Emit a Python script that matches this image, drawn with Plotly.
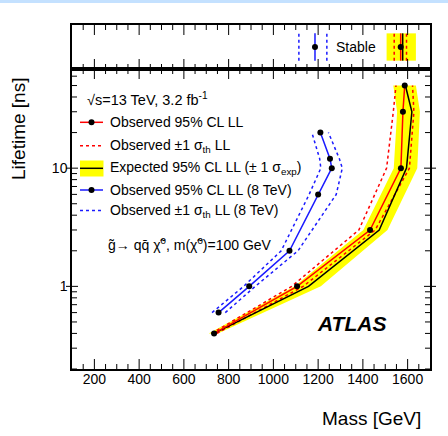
import plotly.graph_objects as go
import numpy as np

# ---------------- data ----------------
# 13 TeV observed (red) and expected (black + yellow band), lifetime in ns
life13 = [0.4, 1, 3, 10, 30, 50]
obs13 = [735, 1106, 1432, 1570, 1579, 1587]
obs13_lo = [724, 1082, 1382, 1506, 1536, 1548]
obs13_hi = [747, 1133, 1455, 1608, 1628, 1622]
exp13 = [735, 1157, 1473, 1595, 1619, 1590]
exp13_lo = [711, 1095, 1402, 1538, 1553, 1536]
exp13_hi = [752, 1212, 1510, 1643, 1655, 1637]

# 8 TeV observed (blue)
life8 = [0.6, 1, 2, 6, 10, 12, 20]
obs8 = [755, 892, 1072, 1200, 1261, 1253, 1210]
obs8_lo = [726, 867, 1035, 1160, 1212, 1207, 1172]
obs8_hi = [785, 919, 1110, 1281, 1308, 1295, 1246]

# stable limits (top panel)
stable_obs13 = 1569
stable_obs13_lo = 1540
stable_obs13_hi = 1595
stable_exp13 = 1578
stable_exp13_lo = 1506
stable_exp13_hi = 1637
stable_obs8 = 1186
stable_obs8_lo = 1114
stable_obs8_hi = 1239

xtick_vals = [200, 400, 600, 800, 1000, 1200, 1400, 1600]
xminor_vals = [v for v in range(150, 1700, 50) if v % 200 != 0]
ytick_vals = [1, 10]
ytick_text = ["1", "10"]
yminor_vals = [0.2, 0.3, 0.4, 0.5, 0.6, 0.7, 0.8, 0.9,
               2, 3, 4, 5, 6, 7, 8, 9, 20, 30, 40, 50, 60]

# ---------------- layout geometry ----------------
W, H = 448, 436
L, R, T, B = 72, 18, 25, 67
PW, PH = W - L - R, H - T - B
main_top = 69
split = (H - B - main_top) / PH
XR = [100, 1700]
YR = [float(np.log10(0.2)), float(np.log10(69))]

def px(x):
    return (x - L) / PW

def py(y):
    return (H - B - y) / PH

def ypaper(v):
    return split * (np.log10(v) - YR[0]) / (YR[1] - YR[0])

FONT = "Liberation Sans, Arial, Helvetica, sans-serif"
RED = "#ff0000"
BLUE = "#1a1aff"
YEL = "#ffff00"

fig = go.Figure()

# main panel
fig.add_trace(go.Scatter(x=exp13_lo + exp13_hi[::-1], y=life13 + life13[::-1],
                         fill="toself", fillcolor=YEL, line=dict(width=0),
                         mode="lines", hoverinfo="skip", showlegend=False))
for arr in (obs13_lo, obs13_hi):
    fig.add_trace(go.Scatter(x=arr, y=life13, mode="lines",
                             line=dict(color=RED, width=1.5, dash="dot"), showlegend=False))
fig.add_trace(go.Scatter(x=exp13, y=life13, mode="lines",
                         line=dict(color="black", width=1.5), showlegend=False))
fig.add_trace(go.Scatter(x=obs13, y=life13, mode="lines+markers",
                         line=dict(color=RED, width=1.5),
                         marker=dict(color="black", size=6), showlegend=False))
for arr in (obs8_lo, obs8_hi):
    fig.add_trace(go.Scatter(x=arr, y=life8, mode="lines",
                             line=dict(color=BLUE, width=1.5, dash="dot"), showlegend=False))
fig.add_trace(go.Scatter(x=obs8, y=life8, mode="lines+markers",
                         line=dict(color=BLUE, width=1.5),
                         marker=dict(color="black", size=6), showlegend=False))

# top panel (stable)
ylo, yhi, ymid = 0.19, 0.81, 0.5
fig.add_trace(go.Scatter(x=[stable_exp13_lo, stable_exp13_hi, stable_exp13_hi, stable_exp13_lo],
                         y=[ylo, ylo, yhi, yhi], fill="toself", fillcolor=YEL,
                         line=dict(width=0), mode="lines", xaxis="x2", yaxis="y2", showlegend=False))
for xv in (stable_obs13_lo, stable_obs13_hi):
    fig.add_trace(go.Scatter(x=[xv, xv], y=[ylo, yhi], mode="lines", xaxis="x2", yaxis="y2",
                             line=dict(color=RED, width=1.5, dash="dot"), showlegend=False))
fig.add_trace(go.Scatter(x=[stable_exp13, stable_exp13], y=[ylo, yhi], mode="lines",
                         xaxis="x2", yaxis="y2", line=dict(color="black", width=1.5), showlegend=False))
fig.add_trace(go.Scatter(x=[stable_obs13, stable_obs13], y=[ylo, yhi], mode="lines",
                         xaxis="x2", yaxis="y2", line=dict(color=RED, width=1.5), showlegend=False))
fig.add_trace(go.Scatter(x=[stable_obs13], y=[ymid], mode="markers", xaxis="x2", yaxis="y2",
                         marker=dict(color="black", size=6), showlegend=False))
for xv in (stable_obs8_lo, stable_obs8_hi):
    fig.add_trace(go.Scatter(x=[xv, xv], y=[ylo, yhi], mode="lines", xaxis="x2", yaxis="y2",
                             line=dict(color=BLUE, width=1.5, dash="dot"), showlegend=False))
fig.add_trace(go.Scatter(x=[stable_obs8, stable_obs8], y=[ylo, yhi], mode="lines",
                         xaxis="x2", yaxis="y2", line=dict(color=BLUE, width=1.5), showlegend=False))
fig.add_trace(go.Scatter(x=[stable_obs8], y=[ymid], mode="markers", xaxis="x2", yaxis="y2",
                         marker=dict(color="black", size=6), showlegend=False))

base = dict(showline=True, linecolor="black", linewidth=1.5, showgrid=False,
            zeroline=False, ticks="", mirror=True)

fig.update_layout(
    width=W, height=H, margin=dict(l=L, r=R, t=T, b=B),
    paper_bgcolor="white", plot_bgcolor="white",
    font=dict(family=FONT, color="black", size=14),
    xaxis=dict(range=XR, domain=[0, 1], anchor="y", tickmode="array",
               tickvals=xtick_vals, tickfont=dict(size=14), ticklabelstandoff=-4, **base),
    xaxis2=dict(range=XR, domain=[0, 1], anchor="y2", showticklabels=False, **base),
    yaxis=dict(type="log", range=YR, domain=[0, split], anchor="x", tickmode="array",
               tickvals=ytick_vals, ticktext=ytick_text, tickfont=dict(size=14), **base),
    yaxis2=dict(range=[0, 1], domain=[split, 1], anchor="x2", showticklabels=False, **base),
)

ann = []
shapes = []

# ---- tick marks (axis decoration) ----
TK = dict(color="black", width=1)

def xtick(xv, yanchor, length):
    # length > 0 points up, < 0 points down
    return dict(type="line", xref="x", yref="paper", ysizemode="pixel", yanchor=yanchor,
                x0=xv, x1=xv, y0=0, y1=length, line=TK, layer="above")

def ytick(v, xanchor, a, b):
    yp = float(ypaper(v))
    return dict(type="line", xref="paper", yref="paper", xsizemode="pixel", xanchor=xanchor,
                x0=a, x1=b, y0=yp, y1=yp, line=TK, layer="above")

for xv in xtick_vals:
    shapes += [xtick(xv, 0, 10), xtick(xv, split, -10), xtick(xv, split, 10), xtick(xv, 1, -10)]
for xv in xminor_vals:
    shapes += [xtick(xv, 0, 5), xtick(xv, split, -5), xtick(xv, split, 5), xtick(xv, 1, -5)]
for v in ytick_vals:
    shapes += [ytick(v, 0, -6, 6), ytick(v, 1, -6, 6)]
for v in yminor_vals:
    shapes += [ytick(v, 0, 0, 5), ytick(v, 1, -5, 0)]

# top light band
shapes.append(dict(type="rect", xref="paper", yref="paper", x0=px(0), x1=px(W),
                   y0=py(3), y1=py(0), fillcolor="#c4e1ff", line=dict(width=0), layer="above"))

# Stable label
ann.append(dict(x=px(356), y=py(47), xref="paper", yref="paper", text="Stable",
                showarrow=False, font=dict(size=14), xanchor="center", yanchor="middle"))

# axis titles
ann.append(dict(x=px(423), y=py(418), xref="paper", yref="paper", text="Mass [GeV]",
                showarrow=False, font=dict(size=19), xanchor="right", yanchor="middle"))
ann.append(dict(x=px(18), y=py(129), xref="paper", yref="paper", text="Lifetime [ns]",
                showarrow=False, font=dict(size=19), textangle=-90,
                xanchor="center", yanchor="middle"))
# ATLAS
ann.append(dict(x=px(351), y=py(323), xref="paper", yref="paper",
                text="<b><i>ATLAS</i></b>", showarrow=False, font=dict(size=21),
                xanchor="center", yanchor="middle"))

# legend
lx0, lx1, tx = 80, 103, 107.5
rows = {"cm": 99, "obs": 122.3, "obsth": 145.7, "exp": 168.3, "obs8": 190, "obs8th": 210.5, "proc": 243.5}
ann.append(dict(x=px(85), y=py(rows["cm"]), xref="paper", yref="paper",
                text="√s=13 TeV, 3.2 fb<sup>-1</sup>", showarrow=False,
                font=dict(size=14.5), xanchor="left", yanchor="middle"))
texts = [("obs", "Observed 95% CL LL"),
         ("obsth", "Observed ±1 σ<sub>th</sub> LL"),
         ("exp", "Expected 95% CL LL (± 1 σ<sub>exp</sub>)"),
         ("obs8", "Observed 95% CL LL (8 TeV)"),
         ("obs8th", "Observed ±1 σ<sub>th</sub> LL (8 TeV)")]
for key, t in texts:
    ann.append(dict(x=px(tx), y=py(rows[key]), xref="paper", yref="paper", text=t,
                    showarrow=False, font=dict(size=14), xanchor="left", yanchor="middle"))
ann.append(dict(x=px(106), y=py(rows["proc"]), xref="paper", yref="paper",
                text="g\u0303\u2192 qq\u0304 \u03c7\u0303<sup>0</sup>, m(\u03c7\u0303<sup>0</sup>)=100 GeV",
                showarrow=False, font=dict(size=14), xanchor="left", yanchor="middle"))

def hline(y, color, dash=None, width=1.5):
    d = dict(type="line", xref="paper", yref="paper", x0=px(lx0), x1=px(lx1),
             y0=py(y), y1=py(y), line=dict(color=color, width=width))
    if dash:
        d["line"]["dash"] = dash
    return d

def dot(y, xc=91.5, r=3):
    return dict(type="circle", xref="paper", yref="paper", x0=px(xc - r), x1=px(xc + r),
                y0=py(y + r), y1=py(y - r), fillcolor="black", line=dict(width=0))

shapes.append(dict(type="rect", xref="paper", yref="paper", x0=px(lx0), x1=px(lx1 + 0.5),
                   y0=py(176.5), y1=py(160.5), fillcolor=YEL, line=dict(width=0)))
shapes.append(hline(rows["exp"], "black"))
shapes.append(hline(rows["obs"], RED))
shapes.append(dot(rows["obs"]))
shapes.append(hline(rows["obsth"], RED, "dot"))
shapes.append(hline(rows["obs8"], BLUE))
shapes.append(dot(rows["obs8"]))
shapes.append(hline(rows["obs8th"], BLUE, "dot"))

fig.update_layout(annotations=ann, shapes=shapes)
fig.write_html("out.html")
